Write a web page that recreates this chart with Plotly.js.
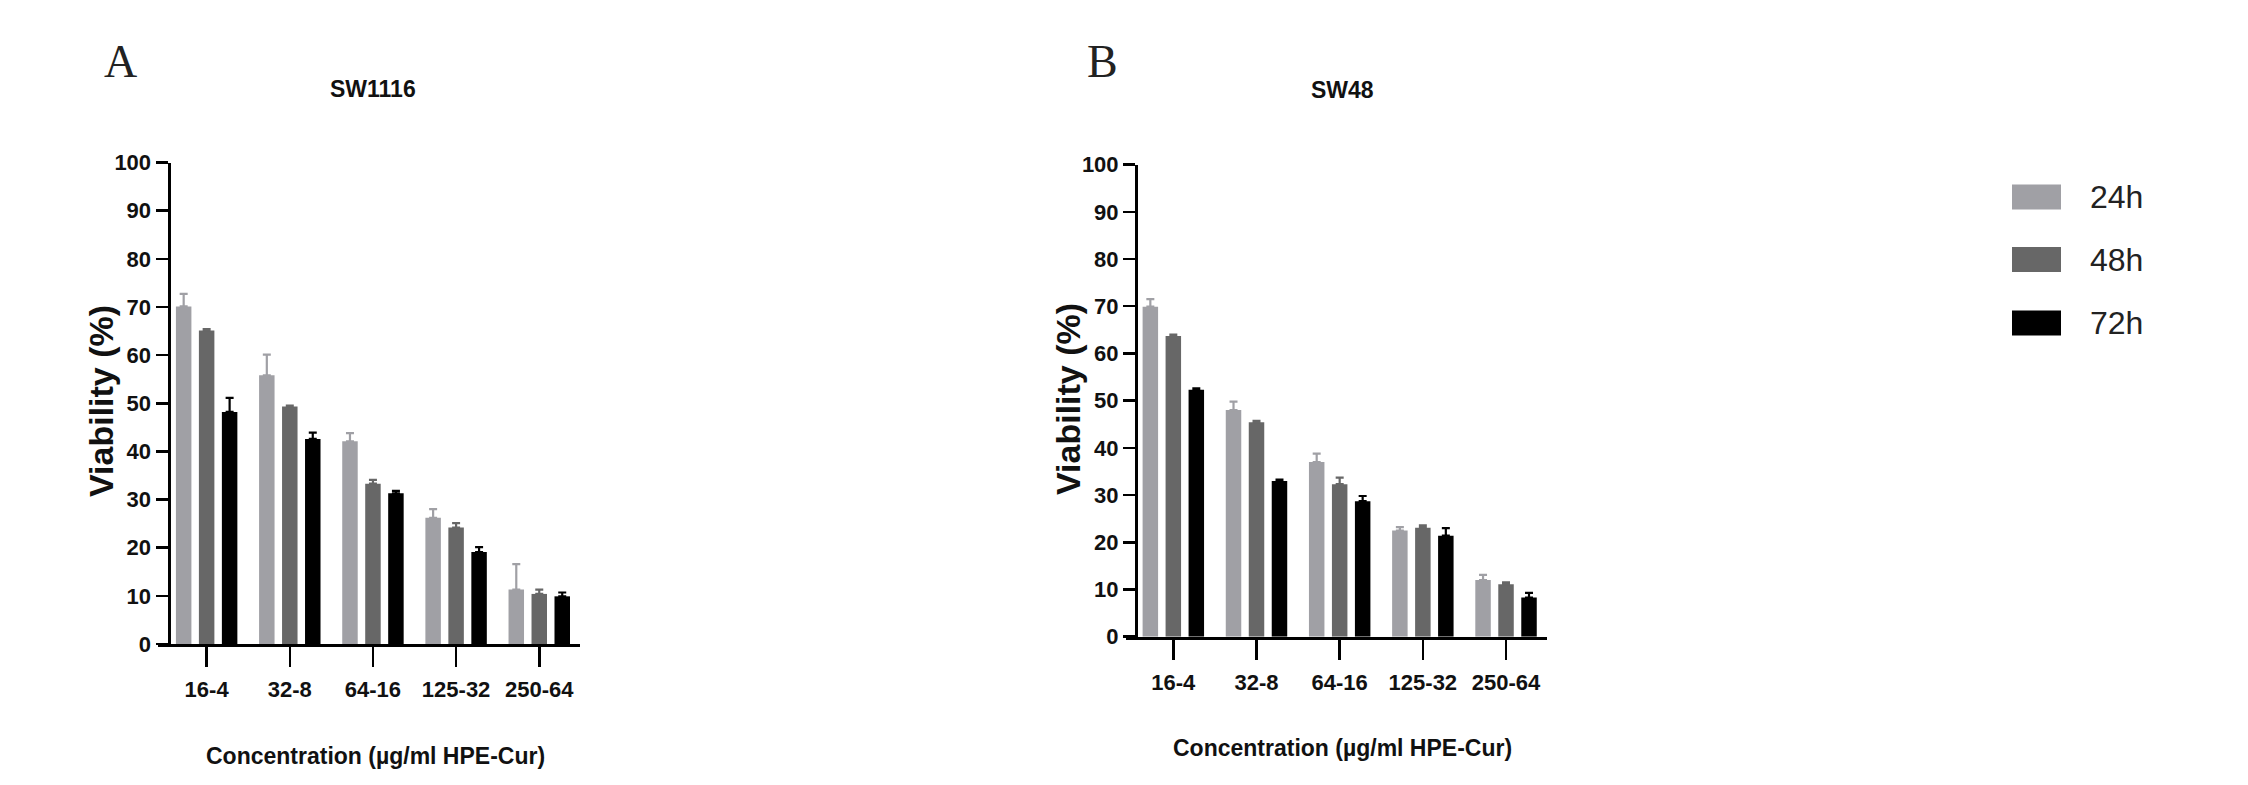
<!DOCTYPE html>
<html>
<head>
<meta charset="utf-8">
<script src="https://cdn.plot.ly/plotly-3.0.1.min.js"></script>
<style>html,body{margin:0;padding:0;background:#fff;}#chart{width:2248px;height:785px;}</style>
</head>
<body>
<div id="chart"></div>
<script>
// ---- data ----
const categories = ['16-4', '32-8', '64-16', '125-32', '250-64'];
const seriesNames = ['24h', '48h', '72h'];
const seriesColors = ['#a0a0a5', '#676767', '#000000'];
const yTickVals = [0, 10, 20, 30, 40, 50, 60, 70, 80, 90, 100];

const sw1116_24h = [70.1, 55.8, 42.1, 26.2, 11.3];
const sw1116_24h_err = [2.6, 4.3, 1.7, 1.8, 5.3];
const sw1116_48h = [65.1, 49.3, 33.3, 24.2, 10.4];
const sw1116_48h_err = [0.3, 0.2, 0.8, 0.9, 0.9];
const sw1116_72h = [48.2, 42.6, 31.3, 19.1, 9.9];
const sw1116_72h_err = [2.9, 1.3, 0.5, 1.0, 0.8];

const sw48_24h = [69.9, 48.0, 37.0, 22.5, 12.0];
const sw48_24h_err = [1.6, 1.8, 1.8, 0.7, 1.1];
const sw48_48h = [63.7, 45.4, 32.3, 23.1, 11.1];
const sw48_48h_err = [0.3, 0.3, 1.4, 0.5, 0.4];
const sw48_72h = [52.3, 33.0, 28.7, 21.4, 8.3];
const sw48_72h_err = [0.3, 0.3, 1.1, 1.6, 1.0];

// ---- layout helpers ----
const W = 2248, H = 785;
const px = x => x / W;
const py = y => 1 - y / H;
const SANS = '"Liberation Sans", Arial, sans-serif';
const SERIF = '"Liberation Serif", "Times New Roman", serif';

function makeBars(vals, errs, idx, xa, ya) {
  return {
    type: 'bar', x: categories, y: vals, name: seriesNames[idx],
    xaxis: xa, yaxis: ya, showlegend: false,
    marker: {color: seriesColors[idx], line: {width: 0}},
    error_y: {type: 'data', symmetric: false, array: errs,
      arrayminus: errs.map(() => 0), color: seriesColors[idx], thickness: 2.2, width: 4}
  };
}

const data = [
  makeBars(sw1116_24h, sw1116_24h_err, 0, 'x', 'y'),
  makeBars(sw1116_48h, sw1116_48h_err, 1, 'x', 'y'),
  makeBars(sw1116_72h, sw1116_72h_err, 2, 'x', 'y'),
  makeBars(sw48_24h, sw48_24h_err, 0, 'x2', 'y2'),
  makeBars(sw48_48h, sw48_48h_err, 1, 'x2', 'y2'),
  makeBars(sw48_72h, sw48_72h_err, 2, 'x2', 'y2')
];

const tickFont = {family: SANS, size: 22, color: '#111', weight: 700};

function xAxis(domain, range, anchor) {
  return {
    domain: domain, range: range, anchor: anchor, type: 'category',
    showline: true, linecolor: '#000', linewidth: 3,
    ticks: 'outside', ticklen: 20, tickwidth: 2.5, tickcolor: '#000',
    tickfont: tickFont, tickangle: 0, ticklabelstandoff: 4,
    showgrid: false, zeroline: false, fixedrange: true
  };
}
function yAxis(domain, pos) {
  return {
    domain: domain, range: [0, 100], anchor: 'free', position: pos,
    tickvals: yTickVals, ticktext: yTickVals.map(String),
    showline: true, linecolor: '#000', linewidth: 3,
    ticks: 'outside', ticklen: 12, tickwidth: 2.5, tickcolor: '#000',
    tickfont: tickFont, showgrid: false, zeroline: false, fixedrange: true
  };
}

const annotations = [
  {text: 'A', x: px(120), y: py(62), font: {family: SERIF, size: 46, color: '#222'}},
  {text: 'B', x: px(1102), y: py(62), font: {family: SERIF, size: 46, color: '#222'}},
  {text: 'SW1116', x: px(373), y: py(89), font: {family: SANS, size: 23, color: '#111', weight: 700}},
  {text: 'SW48', x: px(1342), y: py(90), font: {family: SANS, size: 23, color: '#111', weight: 700}},
  {text: 'Concentration (µg/ml HPE-Cur)', x: px(375), y: py(756), font: {family: SANS, size: 23, color: '#111', weight: 700}},
  {text: 'Concentration (µg/ml HPE-Cur)', x: px(1342), y: py(748), font: {family: SANS, size: 23, color: '#111', weight: 700}},
  {text: 'Viability (%)', x: px(101), y: py(401), textangle: -90, font: {family: SANS, size: 34, color: '#111', weight: 700}},
  {text: 'Viability (%)', x: px(1068), y: py(399), textangle: -90, font: {family: SANS, size: 34, color: '#111', weight: 700}}
].map(a => Object.assign({xref: 'paper', yref: 'paper', showarrow: false, xanchor: 'center', yanchor: 'middle'}, a));

// custom legend (swatches drawn as shapes, labels as annotations)
const legendRowsY = [197, 259.5, 323];
const shapes = [];
seriesNames.forEach((nm, i) => {
  shapes.push({type: 'rect', xref: 'paper', yref: 'paper',
    x0: px(2012), x1: px(2061), y0: py(legendRowsY[i] + 12.5), y1: py(legendRowsY[i] - 12.5),
    fillcolor: seriesColors[i], line: {width: 0}});
  annotations.push({xref: 'paper', yref: 'paper', showarrow: false, text: nm,
    x: px(2088), y: py(legendRowsY[i]), xanchor: 'left', yanchor: 'middle',
    font: {family: SANS, size: 32, color: '#222'}});
});

const layout = {
  width: W, height: H,
  margin: {l: 0, r: 0, t: 0, b: 0, pad: 0},
  paper_bgcolor: '#fff', plot_bgcolor: 'rgba(0,0,0,0)',
  barmode: 'group', bargap: 0.171, bargroupgap: 0.326,
  showlegend: false,
  xaxis: xAxis([px(158), px(580)], [-0.585, 4.49], 'y'),
  yaxis: yAxis([py(644), py(162.5)], px(168.5)),
  xaxis2: xAxis([px(1126), px(1546.7)], [-0.569, 4.489], 'y2'),
  yaxis2: yAxis([py(636.7), py(164.6)], px(1136)),
  annotations: annotations,
  shapes: shapes
};

Plotly.newPlot('chart', data, layout, {displayModeBar: false, staticPlot: true});
</script>
</body>
</html>
